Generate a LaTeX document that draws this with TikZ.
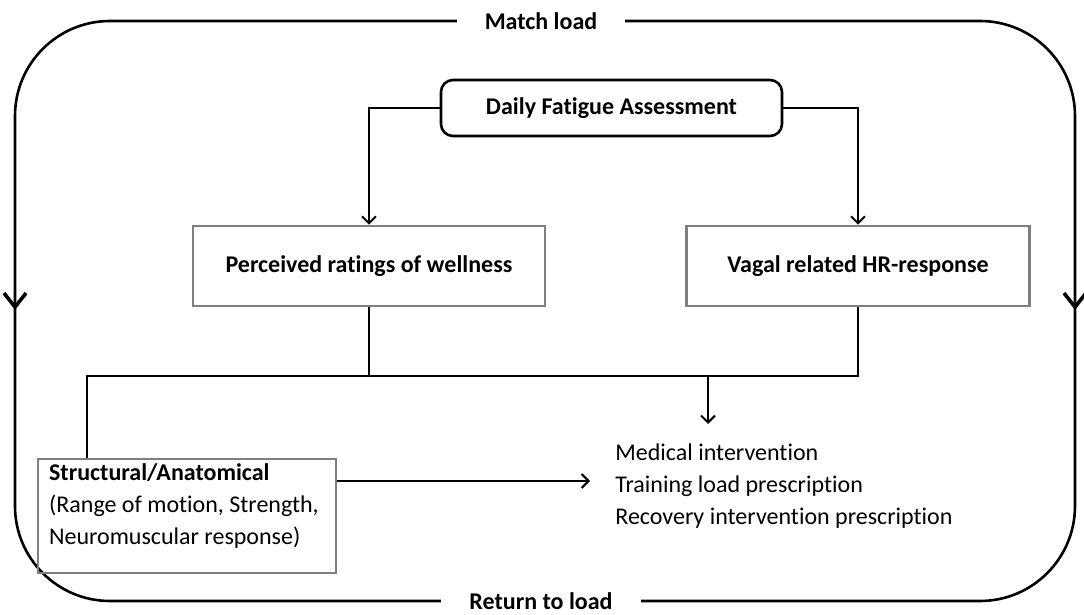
\documentclass[tikz,border=0pt]{standalone}
\usepackage{fontspec}
\setmainfont{Carlito}[Ligatures=NoCommon]
\usetikzlibrary{arrows.meta}
\definecolor{boxgray}{HTML}{7F7F7F}
\begin{document}
\begin{tikzpicture}[x=0.5pt,y=-0.5pt,
  font=\fontsize{12}{16}\selectfont,
  frame/.style={line width=1.3pt},
  conn/.style={line width=1pt},
  tip/.style={-{Straight Barb[length=3.5pt,width=7pt]}},
  bigtip/.style={-{Straight Barb[length=7pt,width=11pt,line width=1.8pt]}},
  boldtxt/.style={font=\fontsize{12}{16}\selectfont\bfseries},
  gbox/.style={draw=boxgray, line width=1.3pt, minimum height=40pt, inner sep=0pt},
  lbl/.style={fill=white, boldtxt, inner xsep=14pt, inner ysep=2pt}]
\useasboundingbox (0,0) rectangle (1084,615);
% outer loop
\draw[frame, rounded corners=47.5pt] (15,21) rectangle (1075,601);
\node[lbl] (match) at (541,21) {Match load};
\node[lbl] (ret) at (541,601) {Return to load};
\coordinate (la) at (15,280);
\coordinate (lb) at (15,310);
\coordinate (ra) at (1075,280);
\coordinate (rb) at (1075,310);
\draw[frame, bigtip] (la) -- (lb);
\draw[frame, bigtip] (ra) -- (rb);
% nodes
\node[draw, line width=1.3pt, rounded corners=6pt, minimum width=170.5pt, minimum height=28pt, boldtxt] (daily) at (611.5,108) {Daily Fatigue Assessment};
\node[gbox, minimum width=176pt, boldtxt] (perc) at (369,266) {Perceived ratings of wellness};
\node[gbox, minimum width=171.5pt, boldtxt] (vagal) at (858,266) {Vagal related HR-response};
\node[gbox, minimum width=149pt, minimum height=57pt,
  label={[anchor=north west, align=left, inner xsep=6pt, inner ysep=3pt]north west:{\textbf{Structural/Anatomical}\\(Range of motion, Strength,\\Neuromuscular response)}}] (struct) at (187,516) {};
\node[anchor=north west, align=left, inner sep=0pt] (out) at (615,443) {Medical intervention\\Training load prescription\\Recovery intervention prescription};
% connectors
\draw[conn, tip] (daily.west) -| (perc.north);
\draw[conn, tip] (daily.east) -| (vagal.north);
\coordinate (jl) at (87,376);
\coordinate (m) at (708,376);
\coordinate (mo) at (708,424);
\draw[conn] (perc.south) -- (perc.south |- jl);
\draw[conn] (vagal.south) |- (jl) -- (jl |- struct.north);
\draw[conn, tip] (m) -- (mo);
\coordinate (ae) at (590,481);
\draw[conn, tip] (ae -| struct.east) -- (ae);
\end{tikzpicture}
\end{document}
